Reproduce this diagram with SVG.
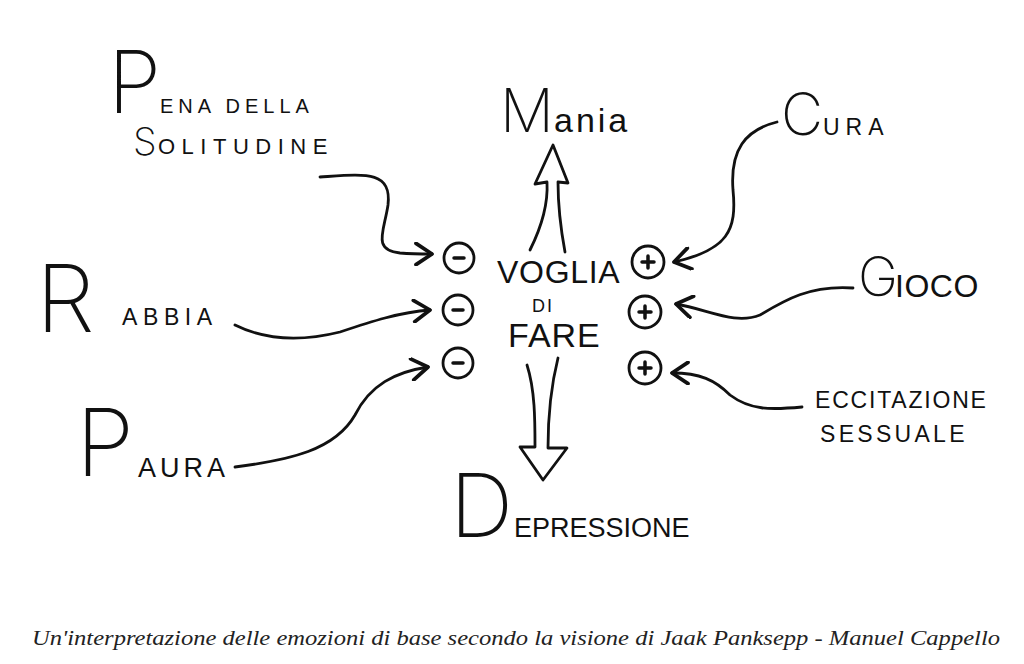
<svg xmlns="http://www.w3.org/2000/svg" width="1024" height="664" viewBox="0 0 1024 664">
<defs>
<style>
.t{font-family:"Liberation Sans","DejaVu Sans",sans-serif;fill:#111}
.b{font-family:Inter,"DejaVu Sans",sans-serif;font-weight:200}
.c{fill:none;stroke:#111;stroke-width:2.8;stroke-linecap:round;stroke-linejoin:round}
.w{fill:#fff;stroke:#111;stroke-width:2.8}
.s{stroke:#111;stroke-width:3.5;stroke-linecap:round}
.cap{font-family:"Liberation Serif","DejaVu Serif",serif;font-style:italic;fill:#222}
</style>
<marker id="ah" markerUnits="userSpaceOnUse" markerWidth="24" markerHeight="24" refX="14" refY="9" orient="auto" viewBox="0 0 18 18">
<path d="M2,1 L14,9 L2,17" fill="none" stroke="#111" stroke-width="2.8" stroke-linecap="round" stroke-linejoin="round"/>
</marker>
</defs>
<rect width="1024" height="664" fill="#fff"/>

<g id="connectors">
<path class="c" d="M320,177 C365,174 392,170 388,205 C384,232 372,250 400,253 C412,254 420,254 432,254" marker-end="url(#ah)"/>
<path class="c" d="M235,325 C265,340 300,342 340,332 C370,322 400,312 430,310" marker-end="url(#ah)"/>
<path class="c" d="M235,467 C290,460 335,450 355,415 C370,385 395,372 428,367" marker-end="url(#ah)"/>
<path class="c" d="M777,122 C745,130 730,150 733,190 C737,230 728,250 674,262" marker-end="url(#ah)"/>
<path class="c" d="M853,288 C810,285 785,300 760,315 C735,325 710,310 676,304" marker-end="url(#ah)"/>
<path class="c" d="M802,407 C770,410 750,410 730,395 C715,380 700,373 672,373" marker-end="url(#ah)"/>
<path class="c" d="M530,250 C545,220 548,200 547,182 L535,184 L553,145 L568,183 L558,182 C558,205 560,225 565,252"/>
<path class="c" d="M527,365 C535,390 535,420 535,447 L520,447 L543,480 L567,448 L548,448 C548,420 550,390 558,358"/>
</g>

<g id="node-pena">
<text class="t"><tspan class="b" x="108" y="113" font-size="86">P</tspan><tspan x="160" y="113" font-size="20" letter-spacing="5">ENA DELLA</tspan><tspan class="b" x="133" y="155" font-size="38">S</tspan><tspan x="158" y="154" font-size="22" letter-spacing="6.5">OLITUDINE</tspan></text>
</g>

<g id="node-mania">
<text class="t"><tspan class="b" x="500" y="132" font-size="60">M</tspan><tspan x="554" y="132" font-size="34" letter-spacing="3">ania</tspan></text>
</g>

<g id="node-cura">
<text class="t"><tspan class="b" x="781" y="135" font-size="58">C</tspan><tspan x="823" y="135" font-size="23" letter-spacing="6">URA</tspan></text>
</g>

<g id="node-gioco">
<text class="t"><tspan class="b" x="858" y="296" font-size="54">G</tspan><tspan x="895" y="297" font-size="32" letter-spacing="0.5">IOCO</tspan></text>
</g>

<g id="node-eccitazione">
<text class="t" font-size="23"><tspan x="815" y="408" letter-spacing="1.8">ECCITAZIONE</tspan><tspan x="820" y="442" letter-spacing="3.3">SESSUALE</tspan></text>
</g>

<g id="node-rabbia">
<text class="t"><tspan class="b" x="36" y="332" font-size="94">R</tspan><tspan x="122" y="325" font-size="23" letter-spacing="5.6">ABBIA</tspan></text>
</g>

<g id="node-paura">
<text class="t"><tspan class="b" x="76" y="476" font-size="94">P</tspan><tspan x="138" y="477" font-size="27" letter-spacing="4">AURA</tspan></text>
</g>

<g id="node-voglia">
<text class="t"><tspan x="497" y="283" font-size="32" letter-spacing="0.7">VOGLIA</tspan><tspan x="532" y="312" font-size="18" letter-spacing="2">DI</tspan><tspan x="508" y="347" font-size="34" letter-spacing="1">FARE</tspan></text>
</g>

<g id="node-depressione">
<text class="t"><tspan class="b" x="450" y="537" font-size="88">D</tspan><tspan x="514" y="537" font-size="27">EPRESSIONE</tspan></text>
</g>

<g id="node-minus1"><circle class="w" cx="459" cy="258" r="15"/><line class="s" x1="454" y1="258" x2="464" y2="258"/></g>
<g id="node-minus2"><circle class="w" cx="458" cy="310" r="15"/><line class="s" x1="453" y1="310" x2="463" y2="310"/></g>
<g id="node-minus3"><circle class="w" cx="458" cy="363" r="15"/><line class="s" x1="453" y1="363" x2="463" y2="363"/></g>
<g id="node-plus1"><circle class="w" cx="648" cy="262" r="16"/><line class="s" x1="642" y1="262" x2="654" y2="262"/><line class="s" x1="648" y1="256" x2="648" y2="268"/></g>
<g id="node-plus2"><circle class="w" cx="645" cy="312" r="16"/><line class="s" x1="639" y1="312" x2="651" y2="312"/><line class="s" x1="645" y1="306" x2="645" y2="318"/></g>
<g id="node-plus3"><circle class="w" cx="645" cy="368" r="16"/><line class="s" x1="639" y1="368" x2="651" y2="368"/><line class="s" x1="645" y1="362" x2="645" y2="374"/></g>

<text class="cap" x="32" y="645" font-size="22" textLength="968" lengthAdjust="spacingAndGlyphs">Un'interpretazione delle emozioni di base secondo la visione di Jaak Panksepp - Manuel Cappello</text>
</svg>
